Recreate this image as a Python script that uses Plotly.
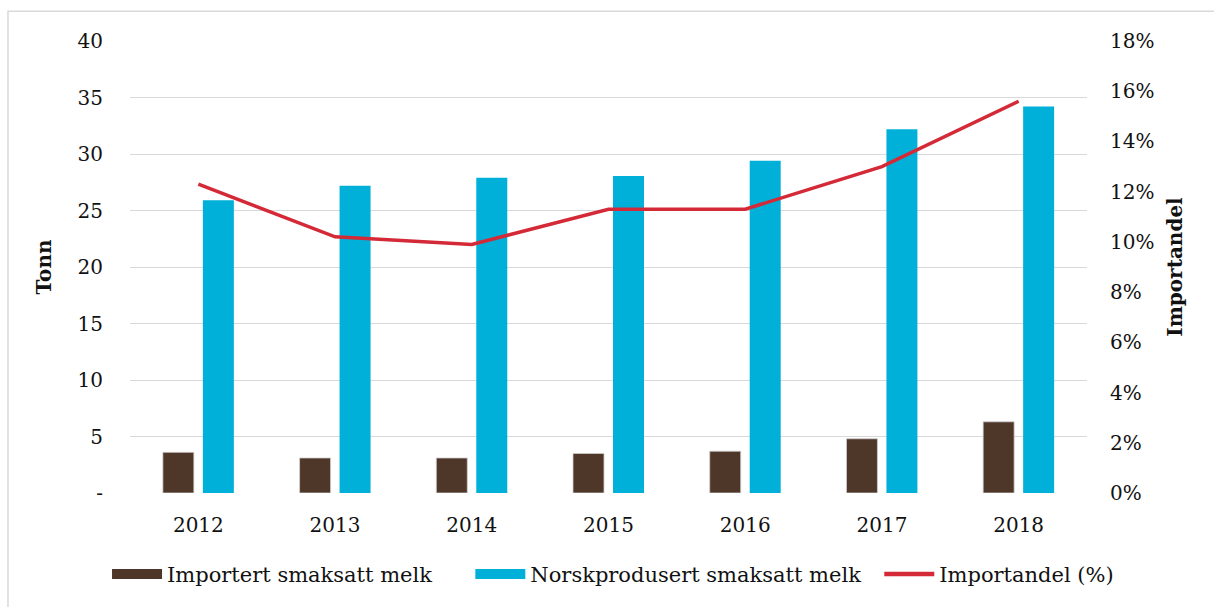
import plotly.graph_objects as go

years = ["2012", "2013", "2014", "2015", "2016", "2017", "2018"]
importert = [3.6, 3.1, 3.1, 3.5, 3.7, 4.8, 6.3]
norsk = [25.9, 27.2, 27.9, 28.05, 29.4, 32.2, 34.2]
importandel = [0.123, 0.102, 0.099, 0.113, 0.113, 0.130, 0.156]

left_ticks = [0, 5, 10, 15, 20, 25, 30, 35, 40]
left_text = ["-", "5", "10", "15", "20", "25", "30", "35", "40"]
right_ticks = [0, 0.02, 0.04, 0.06, 0.08, 0.10, 0.12, 0.14, 0.16, 0.18]
right_text = ["0%", "2%", "4%", "6%", "8%", "10%", "12%", "14%", "16%", "18%"]

FONT = "DejaVu Serif"
BROWN = "#4E3629"
CYAN = "#00B0D8"
RED = "#D42A38"

fig = go.Figure()
fig.add_trace(go.Bar(x=years, y=importert, name="Importert smaksatt melk", showlegend=False,
                     marker=dict(color=BROWN, line=dict(color="#D0D0D0", width=0.8))))
fig.add_trace(go.Bar(x=years, y=norsk, name="Norskprodusert smaksatt melk", showlegend=False,
                     marker=dict(color=CYAN, line=dict(width=0))))
fig.add_trace(go.Scatter(x=years, y=importandel, name="Importandel (%)", yaxis="y2",
                         mode="lines", line=dict(color=RED, width=3.5), showlegend=False))

# legend entries (wide swatches like the original)
fig.add_trace(go.Scatter(x=[None], y=[None], mode="lines",
                         name="Importert smaksatt melk" + "&nbsp;" * 5,
                         line=dict(color=BROWN, width=13)))
fig.add_trace(go.Scatter(x=[None], y=[None], mode="lines",
                         name="Norskprodusert smaksatt melk" + "&nbsp;" * 2,
                         line=dict(color=CYAN, width=13)))
fig.add_trace(go.Scatter(x=[None], y=[None], mode="lines", name="Importandel (%)",
                         line=dict(color=RED, width=4.5)))

fig.update_layout(
    width=1214, height=607,
    margin=dict(l=130, r=127, t=41, b=114),
    paper_bgcolor="white", plot_bgcolor="white",
    font=dict(family=FONT, size=20, color="#111111"),
    barmode="group", bargap=0.415, bargroupgap=0.225,
    xaxis=dict(showgrid=False, showline=False, ticks="outside", ticklen=14,
               tickcolor="rgba(0,0,0,0)", tickfont=dict(size=20), automargin=False),
    yaxis=dict(range=[0, 40], tickvals=left_ticks, ticktext=left_text,
               showgrid=True, gridcolor="#D9D9D9", gridwidth=1.2, zeroline=False,
               ticks="outside", ticklen=22, tickcolor="rgba(0,0,0,0)", automargin=False,
               title=dict(text="<b>Tonn</b>", font=dict(size=20), standoff=20)),
    yaxis2=dict(range=[0, 0.18], tickvals=right_ticks, ticktext=right_text,
                overlaying="y", side="right", showgrid=False, zeroline=False,
                ticks="outside", ticklen=18, tickcolor="rgba(0,0,0,0)", automargin=False,
                title=dict(text="<b>Importandel</b>", font=dict(size=20), standoff=14)),
    legend=dict(orientation="h", x=-0.024, xanchor="left", y=-0.18, yanchor="middle",
                font=dict(size=21), traceorder="normal", itemwidth=50),
    shapes=[dict(type="rect", xref="paper", yref="paper",
                 x0=-0.1275, x1=1.3, y0=-0.5, y1=1.066,
                 line=dict(color="#D9D9D9", width=1.5), layer="below")],
)

fig.write_html("out.html", config={"displayModeBar": False},
               post_script="document.body.style.margin='0';")
